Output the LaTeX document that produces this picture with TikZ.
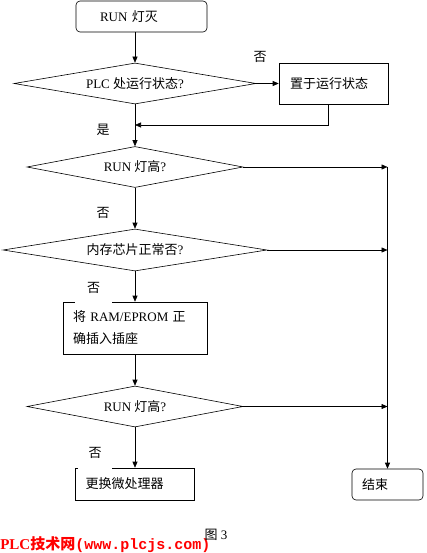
\documentclass[tikz,border=0pt]{standalone}
\usepackage{fontspec}
\setmainfont{Liberation Serif}
\newfontfamily\cjk{Noto Sans CJK SC}
\newfontfamily\wmfont{Liberation Mono}
\usepackage{xcolor}
\usepackage{tikz}
\usetikzlibrary{arrows.meta,
                shapes.geometric}

\tikzset{
  box/.style={draw, rectangle, inner ysep=0pt, align=left,
              font=\fontsize{13}{22}\selectfont},
  decision/.style={draw, diamond, aspect=6, inner sep=0pt,
                   font=\fontsize{13}{16}\selectfont},
  lbl/.style={font=\fontsize{13}{16}\selectfont},
}

\begin{document}
\begin{tikzpicture}[x=1pt, y=-1pt, line width=0.6pt,
                    >={Triangle[length=6pt,width=5pt]}]
\useasboundingbox (0,0) rectangle (426,553);

\node[box, rounded corners=4pt, minimum width=131pt, minimum height=31pt,
      text width=83pt, inner xsep=24pt] (start) at (141.5,16.5) {RUN {\cjk 灯灭}};
\node[decision, minimum width=242pt, minimum height=41pt] (d1) at (135,83.5)
      {PLC {\cjk 处运行状态}?\hspace{14pt}};
\node[box, minimum width=109pt, minimum height=41pt,
      text width=87pt, inner xsep=11pt] (set) at (333.5,83.5) {\cjk 置于运行状态};
\node[decision, minimum width=216pt, minimum height=41pt] (d2) at (135,167)
      {RUN {\cjk 灯高}?\hspace{26pt}};
\node[decision, minimum width=264pt, minimum height=42pt] (d3) at (135,250)
      {{\cjk 内存芯片正常否}?\hspace{15pt}};
\node[box, minimum width=144pt, minimum height=52pt,
      text width=124pt, inner xsep=10pt] (fix) at (135,328)
      {{\cjk 将} RAM/EPROM {\cjk 正}\\{\cjk 确插入插座}};
\node[decision, minimum width=216pt, minimum height=41pt] (d4) at (135,406.5)
      {RUN {\cjk 灯高}?\hspace{26pt}};
\node[box, minimum width=119pt, minimum height=32pt,
      text width=99pt, inner xsep=10pt] (cpu) at (135,484) {\cjk 更换微处理器};
\node[box, rounded corners=4pt, minimum width=71pt, minimum height=31pt,
      text width=51pt, inner xsep=10pt] (end) at (387.5,484.5) {\cjk 结束};

\coordinate (join) at (135,125);

\draw[->] (d1.north |- start.south) -- (d1.north);
\draw[->] (d1.east) -- (set.west);
\draw[->] (d1.south) -- (d2.north);
\draw[->] ([xshift=-5.5pt]set.south) |- (join);
\foreach \a/\b in {d2/d3, d3/fix, fix/d4, d4/cpu}
  \draw[->] (\a.south) -- (\b.north);
\foreach \d in {d2,d3,d4}
  \draw[->] (\d.east) -- (\d.east -| end.north);
\draw[->] (d2.east -| end.north) -- (end.north);

\node[lbl] (no1) at (260,57) {\cjk 否};
\node[lbl] (yes1) at (103,130) {\cjk 是};
\node[lbl] (no2) at (103,213) {\cjk 否};
\node[lbl, fill=white, minimum width=37pt, minimum height=31pt] (no3) at (93.5,287.5) {\cjk 否};
\node[lbl, fill=white, minimum width=34pt, minimum height=32pt] (no4) at (95,453) {\cjk 否};

\node[text=red, anchor=west, inner sep=0pt,
      font=\bfseries\fontsize{15}{16}\selectfont] (mark) at (0,545)
      {PLC{\cjk 技术网}{\wmfont (www.plcjs.com)}};
\node[lbl] (fig) at (216,535) {{\cjk 图} 3};
\end{tikzpicture}
\end{document}
